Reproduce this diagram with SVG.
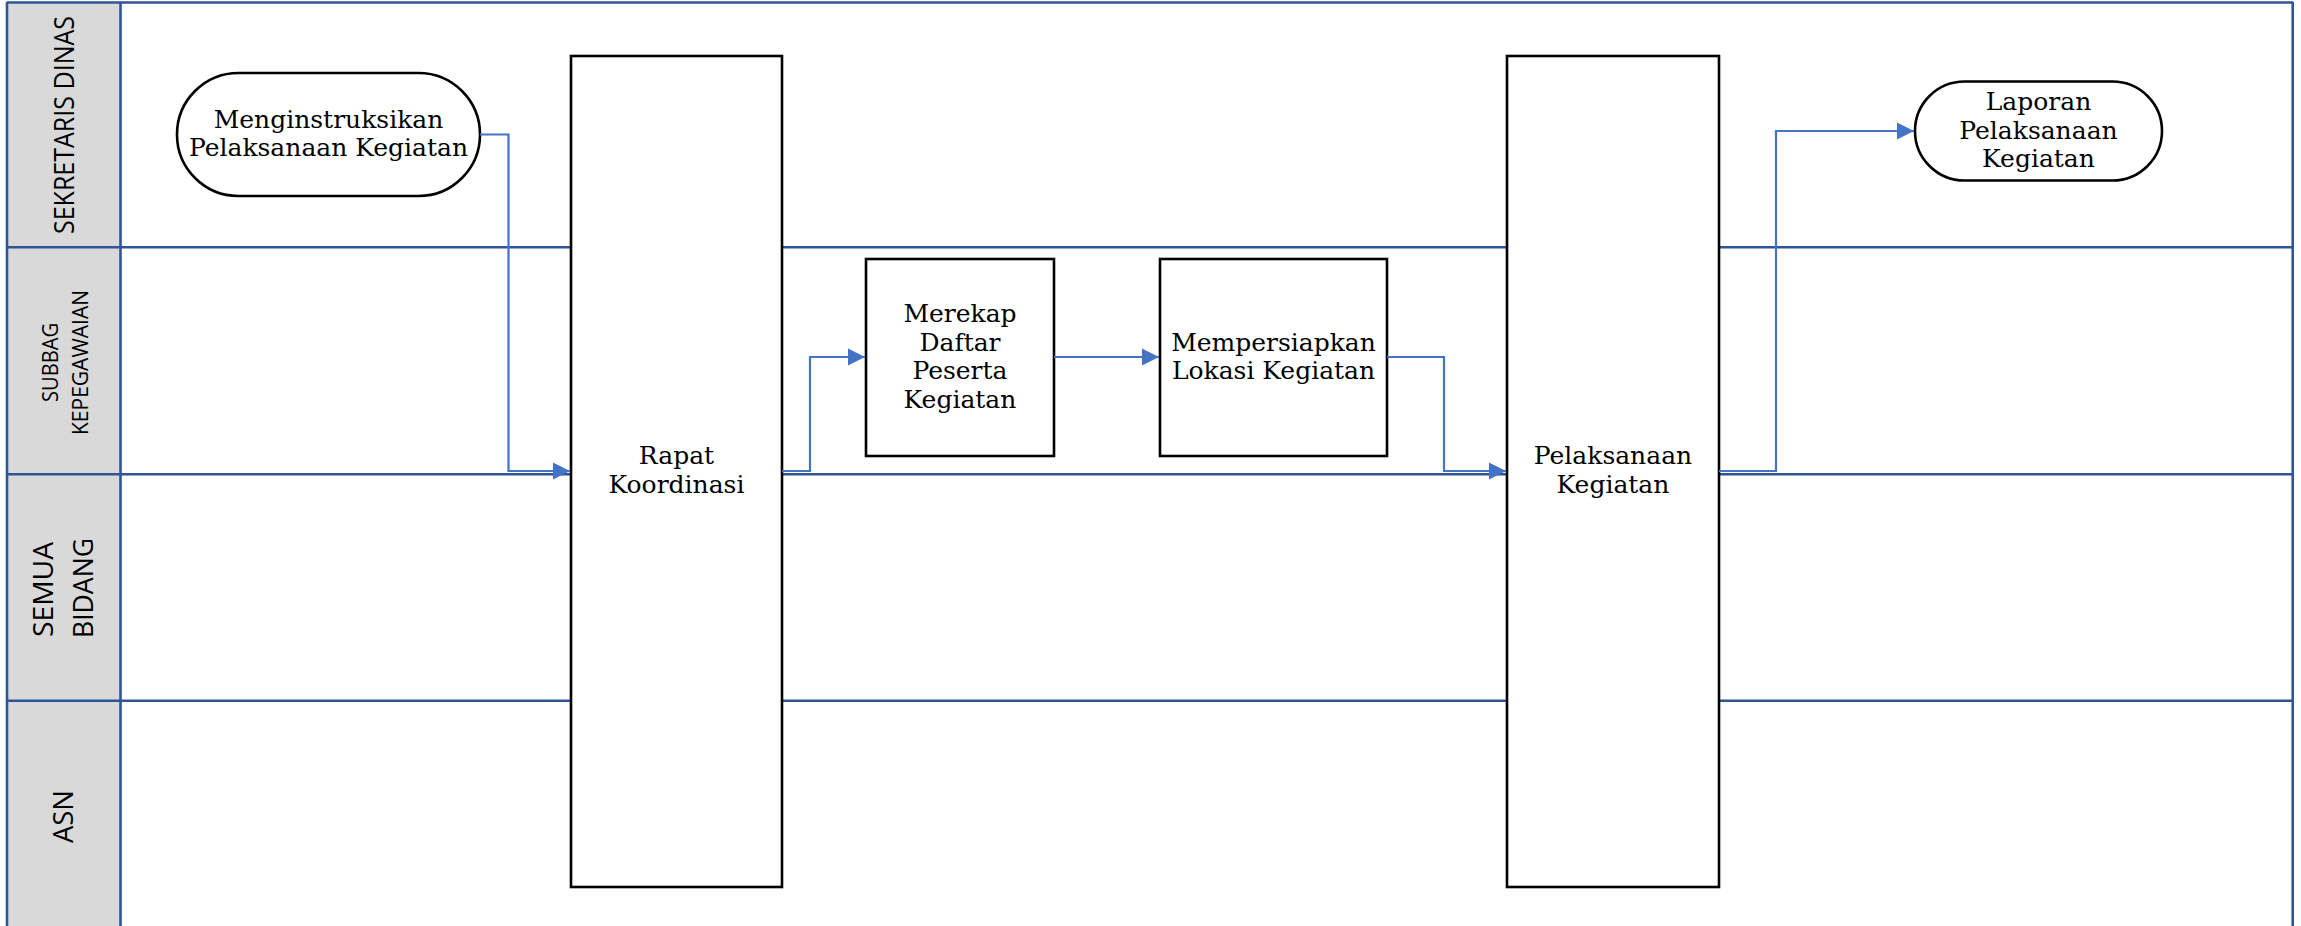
<svg xmlns="http://www.w3.org/2000/svg" width="2301" height="926" viewBox="0 0 2301 926">
<defs>
<style>
.lane{stroke:#2f5597;stroke-width:2.6;fill:none}
.hdr{fill:#d9d9d9;stroke:none}
.lbl{font-family:"Open Sans","Liberation Sans",sans-serif;fill:#000;text-anchor:middle}
.box{fill:#fff;stroke:#000;stroke-width:2.6}
.txt{font-family:"DejaVu Serif","Liberation Serif",serif;font-size:25px;fill:#000;text-anchor:middle}
.con{fill:none;stroke:#4472c4;stroke-width:2.2;marker-end:url(#arr)}
</style>
<marker id="arr" markerUnits="userSpaceOnUse" markerWidth="18" markerHeight="18" viewBox="0 0 18 18" refX="17" refY="9" orient="auto">
<path d="M0,0.5 L17,9 L0,17.5 Z" fill="#4472c4"/>
</marker>
</defs>
<rect width="2301" height="926" fill="#fff"/>
<g id="lanes">
<rect class="hdr" x="7" y="2" width="113.5" height="924"/>
<line class="lane" x1="7" y1="2.5" x2="2293" y2="2.5"/>
<line class="lane" x1="7" y1="2" x2="7" y2="926"/>
<line class="lane" x1="2292.7" y1="2" x2="2292.7" y2="926"/>
<line class="lane" x1="120.5" y1="2" x2="120.5" y2="926"/>
<line class="lane" x1="7" y1="247.3" x2="2293" y2="247.3"/>
<line class="lane" x1="7" y1="474.3" x2="2293" y2="474.3"/>
<line class="lane" x1="7" y1="700.8" x2="2293" y2="700.8"/>
<g id="lane-sekretaris"><text class="lbl" font-size="28" textLength="218" lengthAdjust="spacingAndGlyphs" x="74" y="125" transform="rotate(-90 74 125)">SEKRETARIS DINAS</text></g>
<g id="lane-subbag">
<text class="lbl" font-size="22" textLength="79" lengthAdjust="spacingAndGlyphs" x="58" y="362.5" transform="rotate(-90 58 362.5)">SUBBAG</text>
<text class="lbl" font-size="22" textLength="145" lengthAdjust="spacingAndGlyphs" x="88" y="362.5" transform="rotate(-90 88 362.5)">KEPEGAWAIAN</text>
</g>
<g id="lane-semua">
<text class="lbl" font-size="28" textLength="95" lengthAdjust="spacingAndGlyphs" x="53" y="589.5" transform="rotate(-90 53 589.5)">SEMUA</text>
<text class="lbl" font-size="28" textLength="100" lengthAdjust="spacingAndGlyphs" x="93" y="588" transform="rotate(-90 93 588)">BIDANG</text>
</g>
<g id="lane-asn"><text class="lbl" font-size="28" textLength="53" lengthAdjust="spacingAndGlyphs" x="73" y="816.5" transform="rotate(-90 73 816.5)">ASN</text></g>
</g>
<g id="n-start">
<rect class="box" x="177" y="73" width="303" height="123" rx="61.5" ry="61.5"/>
<text class="txt" x="328.5" y="127.6">Menginstruksikan</text>
<text class="txt" x="328.5" y="156.4">Pelaksanaan Kegiatan</text>
</g>
<g id="n-rapat">
<rect class="box" x="571" y="56" width="211" height="831"/>
<text class="txt" x="676.5" y="464">Rapat</text>
<text class="txt" x="676.5" y="492.8">Koordinasi</text>
</g>
<g id="n-merekap">
<rect class="box" x="866" y="259" width="188" height="197"/>
<text class="txt" x="960" y="321.7">Merekap</text>
<text class="txt" x="960" y="350.5">Daftar</text>
<text class="txt" x="960" y="379.3">Peserta</text>
<text class="txt" x="960" y="408.1">Kegiatan</text>
</g>
<g id="n-lokasi">
<rect class="box" x="1160" y="259" width="227" height="197"/>
<text class="txt" x="1273.5" y="350.6">Mempersiapkan</text>
<text class="txt" x="1273.5" y="379.4">Lokasi Kegiatan</text>
</g>
<g id="n-pelaksanaan">
<rect class="box" x="1507" y="56" width="212" height="831"/>
<text class="txt" x="1613" y="464">Pelaksanaan</text>
<text class="txt" x="1613" y="492.8">Kegiatan</text>
</g>
<g id="n-laporan">
<rect class="box" x="1915" y="81.5" width="247" height="99" rx="49.5" ry="49.5"/>
<text class="txt" x="2038.5" y="109.7">Laporan</text>
<text class="txt" x="2038.5" y="138.5">Pelaksanaan</text>
<text class="txt" x="2038.5" y="167.3">Kegiatan</text>
</g>
<g id="connectors">
<path class="con" d="M480,134.5 H508.5 V471 H570"/>
<path class="con" d="M782,471 H810 V357 H865"/>
<path class="con" d="M1054,357 H1159"/>
<path class="con" d="M1387,357 H1444 V471 H1506"/>
<path class="con" d="M1719,471 H1776 V131 H1914"/>
</g>
</svg>
